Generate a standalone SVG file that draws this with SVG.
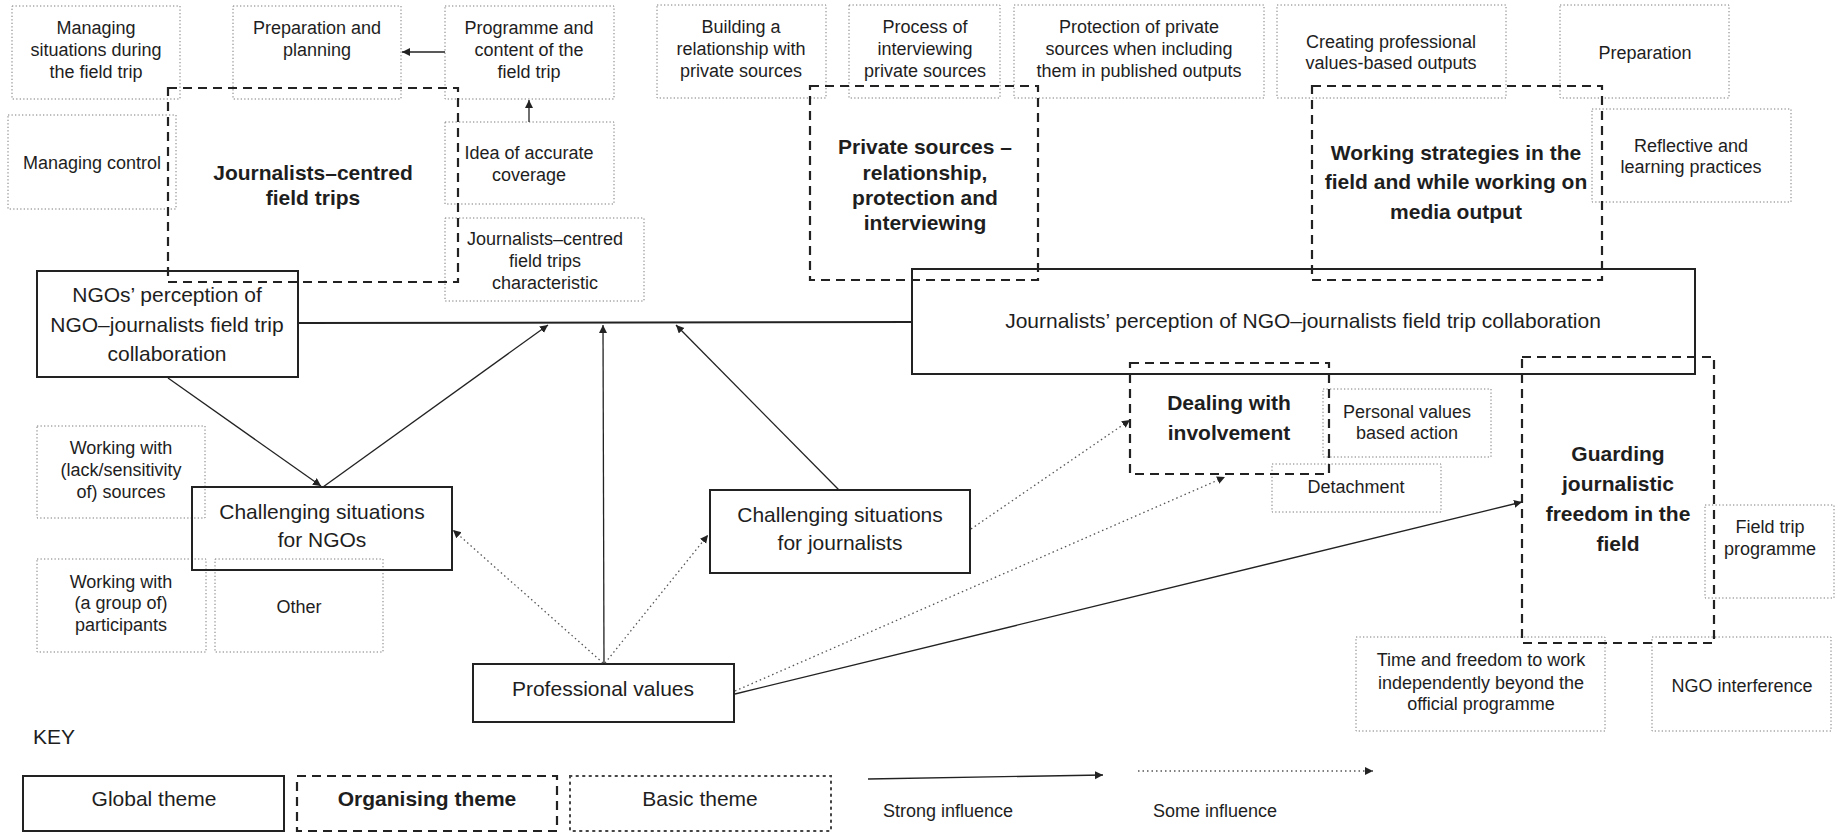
<svg xmlns="http://www.w3.org/2000/svg" width="1837" height="833" viewBox="0 0 1837 833">
<style>
.b{fill:none;stroke:#7a7a7a;stroke-width:1;stroke-dasharray:1.3 2.2}
.o{fill:none;stroke:#222;stroke-width:2.2;stroke-dasharray:9 6}
.g{fill:none;stroke:#222;stroke-width:2}
.kb{fill:none;stroke:#444;stroke-width:2;stroke-dasharray:1.5 5;stroke-linecap:round}
text{font-family:"Liberation Sans",Arial,sans-serif;fill:#1e1e1e;text-anchor:middle}
.s{font-size:18px}
.m{font-size:21px}
.bd{font-size:21px;font-weight:bold}
.k{font-size:21px;text-anchor:start}
.c{fill:none;stroke:#222;stroke-width:1.3}
.d{fill:none;stroke:#555;stroke-width:1.3;stroke-dasharray:1.5 3}
</style>
<defs>
<marker id="ah" markerUnits="userSpaceOnUse" markerWidth="10" markerHeight="10" refX="8" refY="4" orient="auto">
<path d="M0,0 L8,4 L0,8 z" fill="#222"/>
</marker>
</defs>
<rect width="1837" height="833" fill="#fff"/>

<!-- Basic themes -->
<g id="b-managing-situations"><rect class="b" x="12" y="6" width="168" height="93"/>
<text class="s" x="96" y="34">Managing</text><text class="s" x="96" y="56">situations during</text><text class="s" x="96" y="78">the field trip</text></g>
<g id="b-preparation-planning"><rect class="b" x="233" y="6" width="168" height="93"/>
<text class="s" x="317" y="34">Preparation and</text><text class="s" x="317" y="56">planning</text></g>
<g id="b-programme-content"><rect class="b" x="445" y="6" width="169" height="93"/>
<text class="s" x="529" y="34">Programme and</text><text class="s" x="529" y="56">content of the</text><text class="s" x="529" y="78">field trip</text></g>
<g id="b-managing-control"><rect class="b" x="8" y="115" width="168" height="94"/>
<text class="s" x="92" y="169">Managing control</text></g>
<g id="b-idea-accurate"><rect class="b" x="445" y="122" width="169" height="82"/>
<text class="s" x="529" y="159">Idea of accurate</text><text class="s" x="529" y="181">coverage</text></g>
<g id="b-jcft-characteristic"><rect class="b" x="445" y="218" width="199" height="83"/>
<text class="s" x="545" y="245">Journalists–centred</text><text class="s" x="545" y="267">field trips</text><text class="s" x="545" y="289">characteristic</text></g>
<g id="b-building-relationship"><rect class="b" x="657" y="5" width="169" height="93"/>
<text class="s" x="741" y="33">Building a</text><text class="s" x="741" y="55">relationship with</text><text class="s" x="741" y="77">private sources</text></g>
<g id="b-process-interviewing"><rect class="b" x="849" y="5" width="151" height="93"/>
<text class="s" x="925" y="33">Process of</text><text class="s" x="925" y="55">interviewing</text><text class="s" x="925" y="77">private sources</text></g>
<g id="b-protection-sources"><rect class="b" x="1014" y="5" width="250" height="93"/>
<text class="s" x="1139" y="33">Protection of private</text><text class="s" x="1139" y="55">sources when including</text><text class="s" x="1139" y="77">them in published outputs</text></g>
<g id="b-creating-outputs"><rect class="b" x="1277" y="5" width="229" height="93"/>
<text class="s" x="1391" y="48">Creating professional</text><text class="s" x="1391" y="69">values-based outputs</text></g>
<g id="b-preparation"><rect class="b" x="1560" y="5" width="169" height="93"/>
<text class="s" x="1645" y="59">Preparation</text></g>
<g id="b-reflective"><rect class="b" x="1592" y="109" width="199" height="93"/>
<text class="s" x="1691" y="152">Reflective and</text><text class="s" x="1691" y="173">learning practices</text></g>
<g id="b-working-sources"><rect class="b" x="37" y="426" width="168" height="92"/>
<text class="s" x="121" y="454">Working with</text><text class="s" x="121" y="476">(lack/sensitivity</text><text class="s" x="121" y="498">of) sources</text></g>
<g id="b-working-participants"><rect class="b" x="37" y="559" width="169" height="93"/>
<text class="s" x="121" y="588">Working with</text><text class="s" x="121" y="609">(a group of)</text><text class="s" x="121" y="631">participants</text></g>
<g id="b-other"><rect class="b" x="215" y="559" width="168" height="93"/>
<text class="s" x="299" y="613">Other</text></g>
<g id="b-personal-values"><rect class="b" x="1323" y="389" width="168" height="68"/>
<text class="s" x="1407" y="418">Personal values</text><text class="s" x="1407" y="439">based action</text></g>
<g id="b-detachment"><rect class="b" x="1272" y="464" width="169" height="48"/>
<text class="s" x="1356" y="493">Detachment</text></g>
<g id="b-field-trip-programme"><rect class="b" x="1705" y="505" width="129" height="93"/>
<text class="s" x="1770" y="533">Field trip</text><text class="s" x="1770" y="555">programme</text></g>
<g id="b-time-freedom"><rect class="b" x="1356" y="637" width="249" height="94"/>
<text class="s" x="1481" y="666">Time and freedom to work</text><text class="s" x="1481" y="689">independently beyond the</text><text class="s" x="1481" y="710">official programme</text></g>
<g id="b-ngo-interference"><rect class="b" x="1652" y="637" width="179" height="94"/>
<text class="s" x="1742" y="692">NGO interference</text></g>

<!-- Organising themes -->
<g id="o-jcft"><rect class="o" x="168" y="88" width="290" height="194"/>
<text class="bd" x="313" y="180">Journalists–centred</text><text class="bd" x="313" y="205">field trips</text></g>
<g id="o-private-sources"><rect class="o" x="810" y="86" width="228" height="194"/>
<text class="bd" x="925" y="154">Private sources –</text><text class="bd" x="925" y="180">relationship,</text><text class="bd" x="925" y="205">protection and</text><text class="bd" x="925" y="230">interviewing</text></g>
<g id="o-working-strategies"><rect class="o" x="1312" y="86" width="290" height="194"/>
<text class="bd" x="1456" y="160">Working strategies in the</text><text class="bd" x="1456" y="189">field and while working on</text><text class="bd" x="1456" y="219">media output</text></g>
<g id="o-dealing"><rect class="o" x="1130" y="363" width="199" height="111"/>
<text class="bd" x="1229" y="410">Dealing with</text><text class="bd" x="1229" y="440">involvement</text></g>
<g id="o-guarding"><rect class="o" x="1522" y="357" width="192" height="286"/>
<text class="bd" x="1618" y="461">Guarding</text><text class="bd" x="1618" y="491">journalistic</text><text class="bd" x="1618" y="521">freedom in the</text><text class="bd" x="1618" y="551">field</text></g>

<!-- Global themes -->
<g id="g-ngos-perception"><rect class="g" x="37" y="271" width="261" height="106"/>
<text class="m" x="167" y="302">NGOs’ perception of</text><text class="m" x="167" y="332">NGO–journalists field trip</text><text class="m" x="167" y="361">collaboration</text></g>
<g id="g-journalists-perception"><rect class="g" x="912" y="269" width="783" height="105"/>
<text class="m" x="1303" y="328">Journalists’ perception of NGO–journalists field trip collaboration</text></g>
<g id="g-challenging-ngos"><rect class="g" x="192" y="487" width="260" height="83"/>
<text class="m" x="322" y="519">Challenging situations</text><text class="m" x="322" y="547">for NGOs</text></g>
<g id="g-challenging-journalists"><rect class="g" x="710" y="490" width="260" height="83"/>
<text class="m" x="840" y="522">Challenging situations</text><text class="m" x="840" y="550">for journalists</text></g>
<g id="g-professional-values"><rect class="g" x="473" y="664" width="261" height="58"/>
<text class="m" x="603" y="696">Professional values</text></g>

<!-- Connectors -->
<g id="connectors">
<line class="c" x1="445" y1="52" x2="402" y2="52" marker-end="url(#ah)"/>
<line class="c" x1="529" y1="122" x2="529" y2="100" marker-end="url(#ah)"/>
<line x1="298" y1="323" x2="912" y2="322" stroke="#222" stroke-width="2"/>
<line class="c" x1="168" y1="378" x2="321" y2="486" marker-end="url(#ah)"/>
<line class="c" x1="323" y1="487" x2="548" y2="325" marker-end="url(#ah)"/>
<line class="c" x1="604" y1="664" x2="603" y2="325" marker-end="url(#ah)"/>
<line class="c" x1="839" y1="490" x2="676" y2="325" marker-end="url(#ah)"/>
<line class="d" x1="603" y1="663" x2="453" y2="530" marker-end="url(#ah)"/>
<line class="d" x1="605" y1="663" x2="708" y2="535" marker-end="url(#ah)"/>
<line class="d" x1="971" y1="529" x2="1130" y2="420" marker-end="url(#ah)"/>
<line class="d" x1="735" y1="691" x2="1225" y2="477" marker-end="url(#ah)"/>
<line class="c" x1="735" y1="694" x2="1522" y2="502" marker-end="url(#ah)"/>
</g>

<!-- Key -->
<g id="key">
<text class="k" x="33" y="744">KEY</text>
<rect class="g" x="23" y="776" width="261" height="55"/>
<text class="m" x="154" y="806">Global theme</text>
<rect class="o" x="297" y="776" width="260" height="55"/>
<text class="bd" x="427" y="806">Organising theme</text>
<rect class="kb" x="570" y="776" width="261" height="55"/>
<text class="m" x="700" y="806">Basic theme</text>
<line class="c" x1="868" y1="779" x2="1103" y2="775" stroke-width="2" marker-end="url(#ah)"/>
<text class="s" x="948" y="817">Strong influence</text>
<line class="d" x1="1138" y1="771" x2="1373" y2="771" marker-end="url(#ah)"/>
<text class="s" x="1215" y="817">Some influence</text>
</g>
</svg>
